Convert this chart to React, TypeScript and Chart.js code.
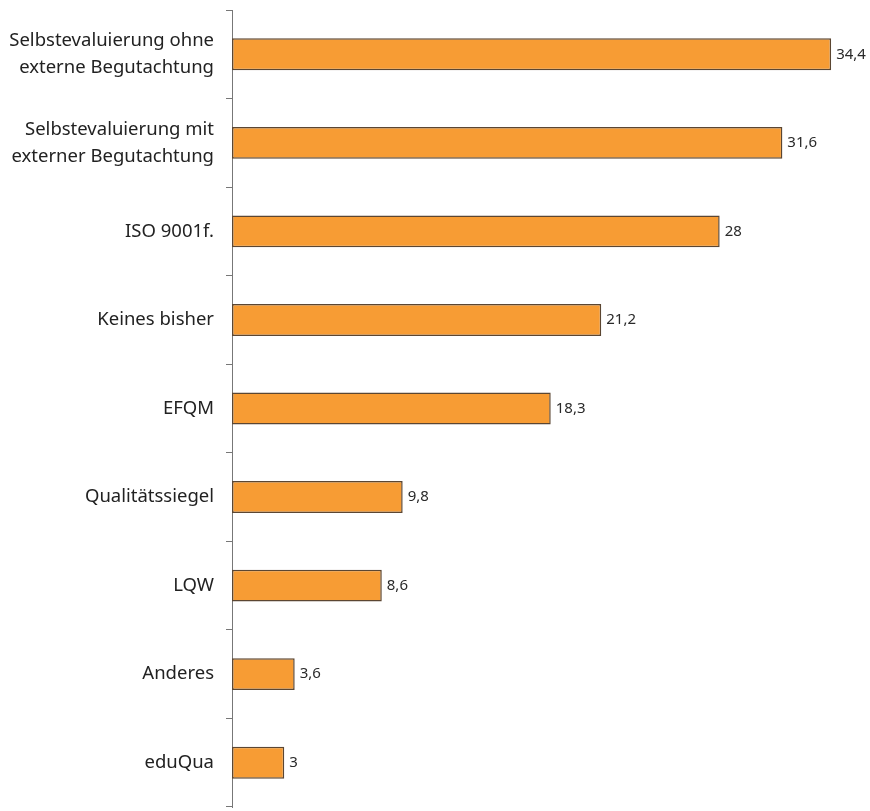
import React, { useEffect, useRef } from "react";
import { Chart, registerables } from "chart.js";

Chart.register(...registerables);

const categories: (string | string[])[] = [
  ["Selbstevaluierung ohne", "externe Begutachtung"],
  ["Selbstevaluierung mit", "externer Begutachtung"],
  "ISO 9001f.",
  "Keines bisher",
  "EFQM",
  "Qualitätssiegel",
  "LQW",
  "Anderes",
  "eduQua",
];
const values: number[] = [34.4, 31.6, 28, 21.2, 18.3, 9.8, 8.6, 3.6, 3];

const FONT = "'Noto Sans', sans-serif";

const valueLabels = {
  id: "valueLabels",
  afterDatasetsDraw(chart: any) {
    const { ctx } = chart;
    const meta = chart.getDatasetMeta(0);
    ctx.save();
    ctx.font = `15px ${FONT}`;
    ctx.fillStyle = "#2a2a2a";
    ctx.textAlign = "left";
    ctx.textBaseline = "middle";
    meta.data.forEach((bar: any, i: number) => {
      const txt = String(values[i]).replace(".", ",");
      ctx.fillText(txt, bar.x + 5, bar.y);
    });
    ctx.restore();
  },
};

export default function App() {
  const ref = useRef<HTMLCanvasElement | null>(null);
  useEffect(() => {
    if (!ref.current) return;
    const chart = new Chart(ref.current, {
      type: "bar",
      data: {
        labels: categories,
        datasets: [
          {
            data: values,
            backgroundColor: "#F79C34",
            borderColor: "#5b4632",
            borderWidth: 1.5,
            borderSkipped: false,
            barPercentage: 0.36,
            categoryPercentage: 1,
          },
        ],
      },
      options: {
        indexAxis: "y",
        responsive: false,
        maintainAspectRatio: false,
        animation: false,
        layout: { padding: { top: 10, bottom: 4, right: 11, left: 0 } },
        plugins: {
          legend: { display: false },
          tooltip: { enabled: false },
        },
        scales: {
          x: {
            display: false,
            min: 0,
            max: 36,
          },
          y: {
            offset: true,
            afterFit: (s: any) => {
              s.width = 232;
              s.paddingTop = 0;
              s.paddingBottom = 0;
            },
            border: { display: true, color: "#777777", width: 1 },
            grid: {
              offset: true,
              drawOnChartArea: false,
              drawTicks: true,
              tickLength: 6,
              color: "#777777",
            },
            ticks: {
              color: "#222222",
              padding: 12,
              font: { family: FONT, size: 18.5, lineHeight: 1.45 },
            },
          },
        },
      },
      plugins: [valueLabels],
    });
    return () => chart.destroy();
  }, []);
  return (
    <div style={{ position: "fixed", left: 0, top: 0, width: 870, height: 811, background: "#fff" }}>
      <canvas ref={ref} width={870} height={811} style={{ display: "block" }} />
    </div>
  );
}
